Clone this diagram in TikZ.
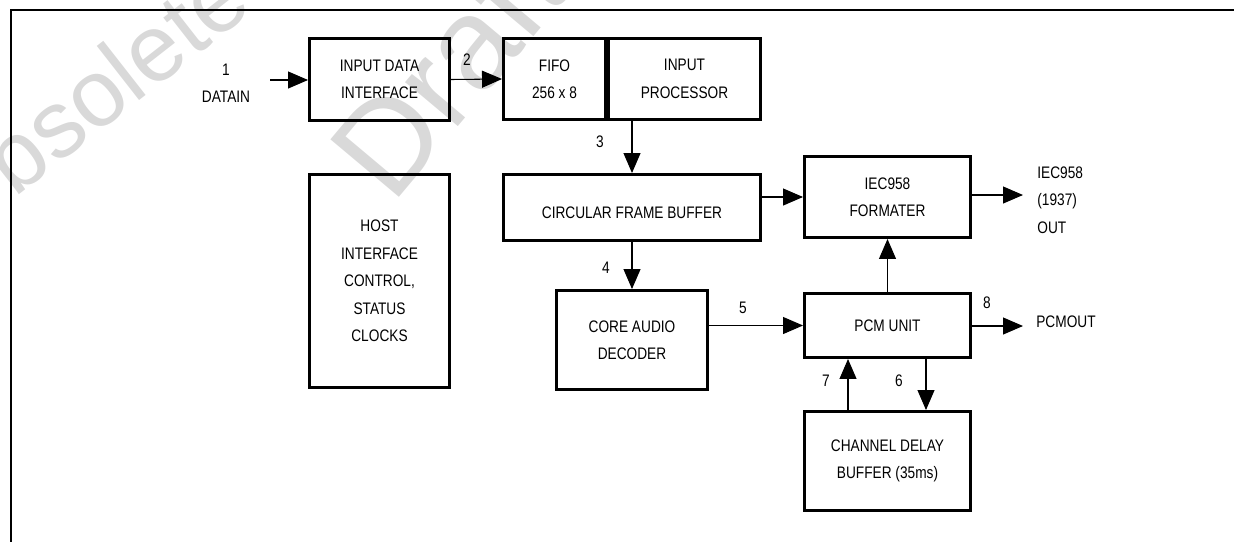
\documentclass[tikz,border=0pt]{standalone}
\usepackage{fontspec}
\setmainfont{Liberation Sans}[FakeStretch=0.82]
\newfontfamily\wmfont{Liberation Sans}
\usetikzlibrary{positioning,calc,arrows.meta}

\tikzset{
  blk/.style={draw, line width=1.7pt, align=center, inner sep=0pt},
  flow/.style={-{Triangle[length=0.4cm,width=0.34cm]}, line width=0.6pt},
  lbl/.style={inner sep=0pt, align=center},
  wmark/.style={text=black!15, inner sep=0pt, anchor=base west}
}

\begin{document}
\begin{tikzpicture}[x=0.02cm, y=-0.02cm, font=\fontsize{9.5}{15.6}\selectfont]
  \useasboundingbox (0,0) rectangle (1234,542);

  % Watermark behind the diagram
  \node[wmark, rotate=38, font=\wmfont\fontsize{54}{54}\selectfont] (wmobs) at (-44,244) {Obsolete};
  \node[wmark, rotate=50, font=\wmfont\fontsize{74}{74}\selectfont] (wmdraft) at (392,206) {Draft};

  % Page frame
  \draw[line width=1.1pt] (1234,10) -- (11,10) -- (11,542);

  % Blocks
  \node[blk, minimum width=2.8cm, minimum height=1.64cm] (idi) at (379.5,79.5) {INPUT DATA\\INTERFACE};
  \node[blk, minimum width=2.04cm, minimum height=1.62cm] (fifo) at (554.5,79) {FIFO\\256 x 8};
  \node[blk, minimum width=3.04cm, minimum height=1.62cm] (inproc) at (684.5,79) {INPUT\\PROCESSOR};
  \node[blk, minimum width=2.8cm, minimum height=4.26cm] (host) at (379.5,281) {HOST\\INTERFACE\\CONTROL,\\STATUS\\CLOCKS};
  \node[blk, minimum width=5.14cm, minimum height=1.32cm, text height=0.42cm, text depth=0cm] (cfb) at (632,207.5) {CIRCULAR FRAME BUFFER};
  \node[blk, minimum width=3.32cm, minimum height=1.62cm] (fmt) at (887.5,197) {IEC958\\FORMATER};
  \node[blk, minimum width=3.02cm, minimum height=1.98cm] (cad) at (632,340) {CORE AUDIO\\DECODER};
  \node[blk, minimum width=3.32cm, minimum height=1.28cm] (pcm) at (887.5,325.5) {PCM UNIT};
  \node[blk, minimum width=3.32cm, minimum height=1.98cm] (cdb) at (887.5,461) {CHANNEL DELAY\\BUFFER (35ms)};

  % Free ends of the outer arrows
  \coordinate (datain) at (270,80);
  \coordinate (iecout) at (1023,195);
  \coordinate (pcmout) at (1023,326);

  % Texts outside the blocks
  \node[lbl] (tdatain) at (226,83) {1\\DATAIN};
  \node[lbl, align=left, anchor=west] (tiec) at (1037,200) {IEC958\\(1937)\\OUT};
  \node[lbl, anchor=west] (tpcm) at (1036,322) {PCMOUT};
  \node[lbl] (n2) at (467,60) {2};
  \node[lbl] (n3) at (600,142) {3};
  \node[lbl] (n4) at (606,268) {4};
  \node[lbl] (n5) at (743,308) {5};
  \node[lbl] (n6) at (899,381) {6};
  \node[lbl] (n7) at (826,381) {7};
  \node[lbl] (n8) at (987,303) {8};

  % Connectors
  \draw[flow] (datain) -- (idi.west |- datain);
  \draw[flow] (idi.east) -- (fifo.west);
  \draw[flow] (inproc.south -| cfb.north) -- (cfb.north);
  \draw[flow] (cfb.east |- fmt.west) -- (fmt.west);
  \draw[flow] (fmt.east |- iecout) -- (iecout);
  \draw[flow] (cfb.south) -- (cad.north);
  \draw[flow] (cad.east |- pcm.west) -- (pcm.west);
  \draw[flow] (pcm.north) -- (fmt.south);
  \draw[flow] (pcm.east |- pcmout) -- (pcmout);
  \draw[flow] ([xshift=-0.79cm]cdb.north) -- ([xshift=-0.79cm]pcm.south);
  \draw[flow] ([xshift=0.77cm]pcm.south) -- ([xshift=0.77cm]cdb.north);

\end{tikzpicture}
\end{document}
